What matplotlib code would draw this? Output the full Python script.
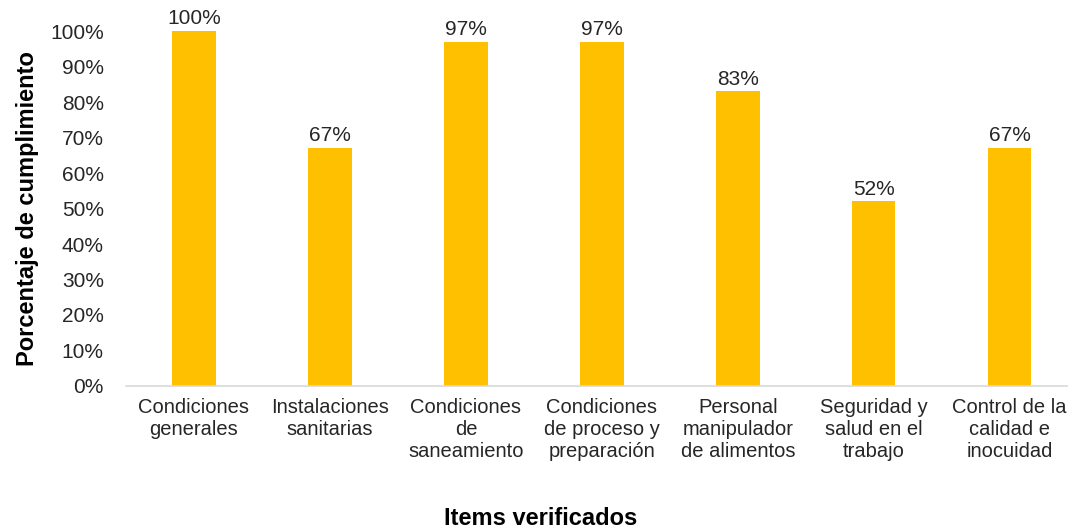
import matplotlib
matplotlib.use('Agg')
import matplotlib.pyplot as plt
from matplotlib.ticker import PercentFormatter

plt.rcParams['font.family'] = ['Liberation Sans', 'DejaVu Sans']

# --- Data ---
categories = ['Condiciones\ngenerales', 'Instalaciones\nsanitarias',
              'Condiciones\nde\nsaneamiento', 'Condiciones\nde proceso y\npreparación',
              'Personal\nmanipulador\nde alimentos', 'Seguridad y\nsalud en el\ntrabajo',
              'Control de la\ncalidad e\ninocuidad']
values = [1.00, 0.67, 0.97, 0.97, 0.83, 0.52, 0.67]
value_labels = ['100%', '67%', '97%', '97%', '83%', '52%', '67%']

BAR_COLOR = '#FFC000'
TEXT_COLOR = '#262626'

fig = plt.figure(figsize=(10.68, 5.27), dpi=100)
# axes extends past the right edge, as in the (cropped) original
ax = fig.add_axes([0.118, 0.2676, 0.891, 0.6735])

x = range(len(categories))
ax.bar(x, values, width=0.32, color=BAR_COLOR, zorder=2)

for xi, v, lab in zip(x, values, value_labels):
    ax.text(xi, v + 0.008, lab, ha='center', va='bottom', fontsize=15, color=TEXT_COLOR)

ax.set_xlim(-0.5, len(categories) - 0.5)
ax.set_ylim(0, 1.0)
ax.set_yticks([i / 10 for i in range(11)])
ax.yaxis.set_major_formatter(PercentFormatter(1.0, decimals=0))
ax.set_xticks(list(x))
ax.set_xticklabels(categories, fontsize=14.5, color=TEXT_COLOR, linespacing=1.2)
ax.tick_params(axis='y', labelsize=15, labelcolor=TEXT_COLOR, length=0, pad=16)
ax.tick_params(axis='x', length=0, pad=9)

for side in ['top', 'right', 'left']:
    ax.spines[side].set_visible(False)
ax.spines['bottom'].set_color('#d9d9d9')
ax.spines['bottom'].set_linewidth(1.2)

ax.set_ylabel('Porcentaje de cumplimiento', fontsize=17, fontweight='bold', labelpad=8)
fig.text(0.506, 0.017, 'Items verificados', ha='center', va='center',
         fontsize=17, fontweight='bold')

plt.savefig('out.png', dpi=100)
plt.close()
